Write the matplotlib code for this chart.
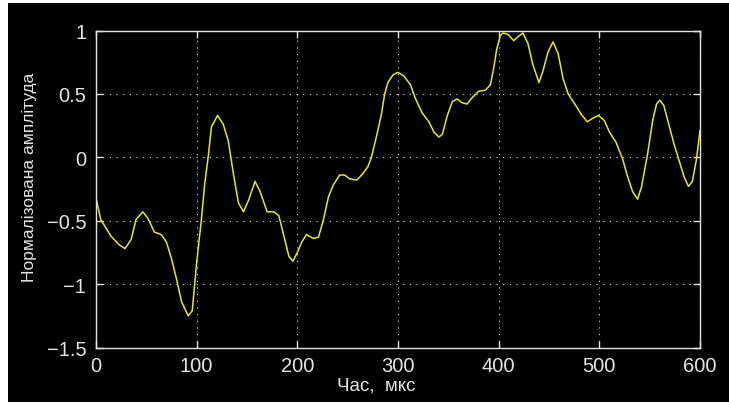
import numpy as np
import matplotlib.pyplot as plt
from matplotlib.patches import Rectangle

# waveform samples: time (us) and normalised amplitude
t_us = [0, 4.7, 14.7, 23, 28.8, 34.8, 39.8, 46.5, 51.5, 58, 65, 70, 75, 80, 85,
        91.6, 95.6, 100, 104.7, 108, 111.4, 114.7, 120.7, 126.4, 131.4, 136.5,
        141.5, 146.5, 151.5, 158, 163, 170, 176.7, 181.6, 186.6, 191.6, 195.6,
        200, 204.3, 209, 216, 221, 226, 231, 235.6, 242, 247, 252, 259, 265,
        270, 273.6, 278.5, 283.5, 286.8, 290, 295, 300, 306, 312.5, 317.5, 324,
        330.7, 335.6, 340.6, 344, 349, 354, 358.7, 363.7, 368.6, 373.6, 380,
        386.8, 391.7, 395, 398, 401.6, 404.3, 409, 415, 419, 424, 429, 434, 440,
        444, 449, 454, 459, 464, 469, 475.7, 482, 488, 494, 499, 505, 510,
        516.5, 523, 528, 533, 538, 542, 548, 553, 556.8, 560, 564, 569, 574,
        579, 584, 588.5, 592.4, 596.4, 600]
amp = [-0.32, -0.49, -0.62, -0.69, -0.72, -0.65, -0.49, -0.43, -0.48, -0.59,
       -0.61, -0.67, -0.80, -0.96, -1.14, -1.25, -1.21, -0.83, -0.49, -0.21,
       0.0, 0.24, 0.33, 0.26, 0.13, -0.13, -0.36, -0.43, -0.34, -0.19, -0.27,
       -0.43, -0.43, -0.46, -0.62, -0.78, -0.82, -0.75, -0.67, -0.61, -0.64,
       -0.63, -0.49, -0.31, -0.22, -0.14, -0.14, -0.17, -0.18, -0.13, -0.075,
       0.0, 0.16, 0.34, 0.50, 0.59, 0.65, 0.67, 0.64, 0.57, 0.46, 0.35, 0.28,
       0.20, 0.16, 0.18, 0.33, 0.44, 0.46, 0.43, 0.42, 0.47, 0.52, 0.53, 0.57,
       0.70, 0.85, 0.96, 0.98, 0.97, 0.92, 0.95, 0.98, 0.90, 0.73, 0.59, 0.68,
       0.83, 0.91, 0.82, 0.62, 0.50, 0.42, 0.34, 0.28, 0.31, 0.33, 0.29, 0.20,
       0.12, -0.01, -0.15, -0.27, -0.33, -0.23, 0.03, 0.29, 0.42, 0.45, 0.41,
       0.26, 0.11, -0.02, -0.15, -0.23, -0.19, -0.02, 0.21]

x_ticks = [0, 100, 200, 300, 400, 500, 600]
y_ticks = [-1.5, -1, -0.5, 0, 0.5, 1]

fg = '#e4e4e4'
plt.rcParams['font.family'] = ['Liberation Sans', 'DejaVu Sans']

fig = plt.figure(figsize=(7.29, 4.06), dpi=100, facecolor='white')
fig.add_artist(Rectangle((8/729, 3/406), 721/729, 399/406, transform=fig.transFigure,
                         facecolor='black', edgecolor='none', zorder=0))

ax = fig.add_axes([96/729, 57.5/406, 604/729, 317/406])
ax.set_facecolor('black')
ax.plot(t_us, amp, color='#e6e62e', lw=1.1)

ax.set_xlim(0, 600)
ax.set_ylim(-1.5, 1)
ax.set_xticks(x_ticks)
ax.set_xticklabels([str(v) for v in x_ticks])
ax.set_yticks(y_ticks)
ax.set_yticklabels(['\u22121.5', '\u22121', '\u22120.5', '0', '0.5', '1'])

ax.grid(True, color=fg, linestyle=(0, (1, 5)), lw=0.8)
for s in ax.spines.values():
    s.set_color(fg)
    s.set_linewidth(1.0)
ax.tick_params(direction='in', length=5, width=1, color=fg, labelcolor=fg,
               labelsize=14.5, top=True, right=True)
ax.tick_params(axis='x', pad=6)
ax.tick_params(axis='y', pad=7)

ax.set_xlabel('Час,  мкс', color=fg, fontsize=13.5)
ax.xaxis.set_label_coords(0.464, -0.09)
ax.set_ylabel('Нормалізована амплітуда', color=fg, fontsize=12.5)
ax.yaxis.set_label_coords(-0.097, 0.54)

fig.savefig('out.png', dpi=100, facecolor=fig.get_facecolor())
